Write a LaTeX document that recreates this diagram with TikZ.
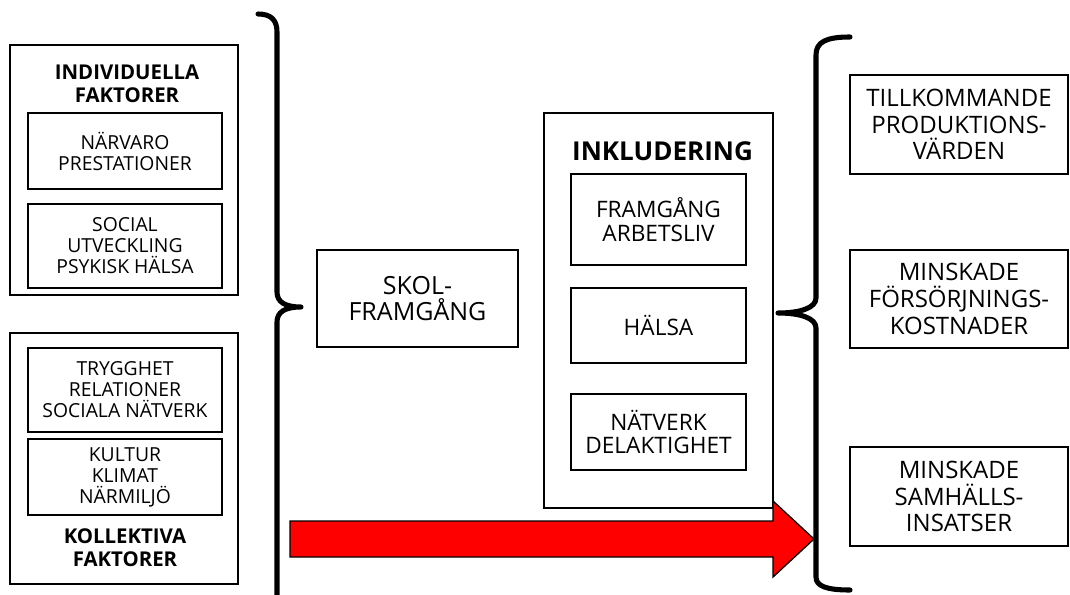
\documentclass[tikz,border=0pt]{standalone}
\usepackage{fontspec}
\setmainfont{Open Sans}
\usepackage{tikz}
\usetikzlibrary{positioning}
\newcommand{\pxl}{0.75pt}
\tikzset{
  boxsize/.style 2 args={minimum width=#1*\pxl, minimum height=#2*\pxl},
  outerbox/.style={draw, line width=1.8pt, inner sep=0pt},
  innerbox/.style={draw, line width=1.8pt, inner sep=0pt, align=center, font=\fontsize{14.5}{15.75}\selectfont},
  inklbox/.style={draw, line width=1.8pt, inner sep=0pt, align=center, font=\fontsize{17}{17.5}\selectfont},
  resultbox/.style={draw, line width=1.8pt, inner sep=0pt, align=center, font=\fontsize{18}{20}\selectfont},
  titletext/.style={inner sep=0pt, align=center, font=\bfseries\fontsize{15.3}{17}\selectfont},
  bracket/.style={line width=3.8pt, line cap=round, line join=round},
  bigarrow/.style={fill=red, draw=black, line width=1pt},
}
\begin{document}
\begin{tikzpicture}[x=0.75pt, y=-0.75pt]
\useasboundingbox (0,0) rectangle (1070,595);
% factors on the left
\node[outerbox, boxsize={228}{250}] (indiv) at (124,170) {};
\node[titletext] (indivtitle) at (127,84) {INDIVIDUELLA\\FAKTORER};
\node[innerbox, boxsize={194}{76}] (narvaro) at (125,151) {NÄRVARO\\PRESTATIONER};
\node[innerbox, boxsize={194}{84}] (social) at (125,246) {SOCIAL\\UTVECKLING\\PSYKISK HÄLSA};
\node[outerbox, boxsize={228}{251}] (koll) at (124,458.5) {};
\node[innerbox, boxsize={194}{84}] (trygg) at (125,390) {TRYGGHET\\RELATIONER\\SOCIALA NÄTVERK};
\node[innerbox, boxsize={194}{76}] (kultur) at (125,477) {KULTUR\\KLIMAT\\NÄRMILJÖ};
\node[titletext] (kolltitle) at (125,548) {KOLLEKTIVA\\FAKTORER};
% school
\node[resultbox, boxsize={201}{97}, font=\fontsize{18.75}{20}\selectfont] (skol) at (417.5,298.5) {SKOL-\\FRAMGÅNG};
% inclusion
\node[outerbox, boxsize={229}{395}] (inkl) at (658.5,310.5) {};
\node[titletext, font=\bfseries\fontsize{19.5}{20}\selectfont] (inkltitle) at (662.5,151) {INKLUDERING};
\node[inklbox, boxsize={175}{91}] (arbete) at (658.5,219.5) {FRAMGÅNG\\ARBETSLIV};
\node[inklbox, boxsize={175}{75}] (halsa) at (658.5,325.5) {HÄLSA};
\node[inklbox, boxsize={175}{76}] (natverk) at (658.5,432) {NÄTVERK\\DELAKTIGHET};
% gains on the right
\node[resultbox, boxsize={218}{99}] (prod) at (959,124.5) {TILLKOMMANDE\\PRODUKTIONS-\\VÄRDEN};
\node[resultbox, boxsize={218}{98}] (fors) at (959,299) {MINSKADE\\FÖRSÖRJNINGS-\\KOSTNADER};
\node[resultbox, boxsize={218}{99}] (samh) at (959,496.5) {MINSKADE\\SAMHÄLLS-\\INSATSER};
% braces
\draw[bracket] (258,14) .. controls (271,14) and (277,20) .. (277,32) -- (277,292)
  .. controls (277,302) and (285,307) .. (301,307)
  .. controls (285,307) and (277,312) .. (277,322) -- (277,600);
\draw[bracket] (850,37) .. controls (826,37) and (816,42) .. (816,55) -- (816,298)
  .. controls (816,308) and (800,313) .. (778,313)
  .. controls (800,313) and (816,318) .. (816,328) -- (816,577)
  .. controls (816,586) and (826,590) .. (850,590);
% red arrow
\draw[bigarrow] (290,521) -- (773,521) -- (773,501) -- (814,539) -- (773,577) -- (773,557) -- (290,557) -- cycle;
\end{tikzpicture}
\end{document}
